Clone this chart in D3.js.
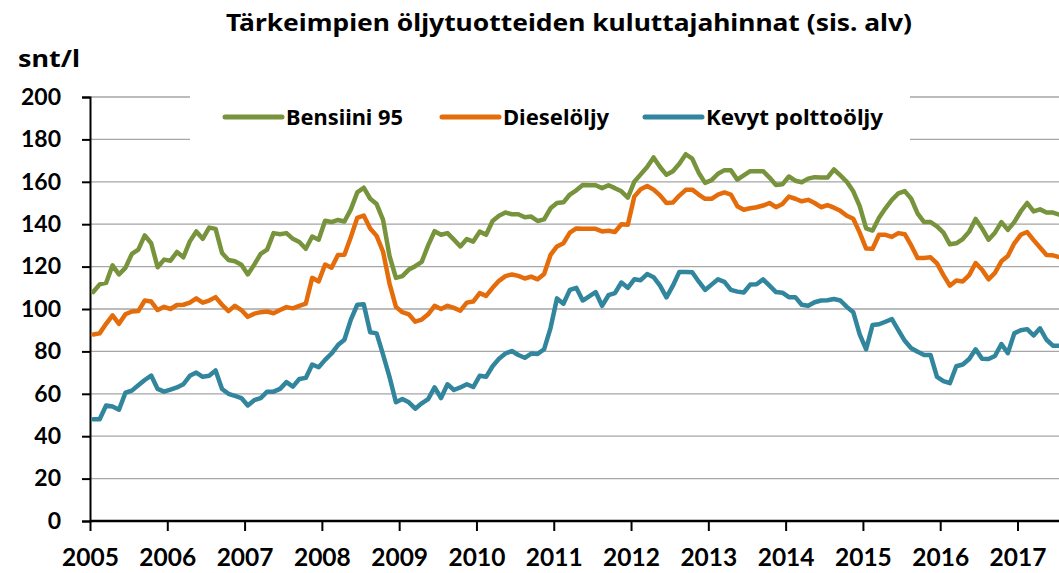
<!DOCTYPE html>
<html>
<head>
<meta charset="utf-8">
<script src="https://cdn.jsdelivr.net/npm/d3@7"></script>
<style>
  body { margin: 0; background: #fff; }
  svg { display: block; }
  text { font-weight: 700; fill: #000; }
  .tickfont { font-family: Lato, "Noto Sans", sans-serif; }
  .labelfont { font-family: "Noto Sans", Lato, sans-serif; }
</style>
</head>
<body>
<svg id="chart" width="1059" height="573"></svg>
<script>
// Monthly consumer prices (snt/l, incl. VAT), Jan 2005 – Jul 2017
const firstYear = 2005;
const yearTicks = [2005, 2006, 2007, 2008, 2009, 2010, 2011, 2012, 2013, 2014, 2015, 2016, 2017];
const valueTicks = [0, 20, 40, 60, 80, 100, 120, 140, 160, 180, 200];
const seriesNames = ["Bensiini 95", "Dieselöljy", "Kevyt polttoöljy"];
const seriesColors = ["#77933C", "#E46C0A", "#31859C"];

const bensiini95 = [
  108, 111.6, 112.3, 120.6, 116.3, 119.4, 126, 128, 134.7, 131, 119.7, 123.3,
  122.8, 126.9, 124.4, 131.9, 136.6, 133.1, 138.4, 137.8, 126.4, 123.1, 122.5, 120.9,
  116.3, 120.9, 126, 128, 135.8, 135.3, 135.8, 133.1, 131.6, 128.4, 134.2, 132.7,
  141.6, 141, 142, 141.3, 147, 155, 157.2, 152, 149.5, 142, 125, 114.7,
  115.5, 118.6, 120.2, 122.2, 130, 136.7, 135, 135.8, 132.7, 129.5, 133, 131.8,
  136.5, 135, 141.5, 144, 145.5, 144.7, 144.7, 143.3, 143.6, 141.5, 142.3, 147.5,
  150, 150.3, 154, 156, 158.5, 158.4, 158.4, 157, 158.4, 157, 155.5, 152.5,
  160, 163.5, 167, 171.5, 167, 163.3, 165, 168.5, 173, 170.9, 164.3, 159.5,
  160.8, 163.8, 165.5, 165.5, 161, 163, 165, 165, 165, 162, 158.5, 158.8,
  162.5, 160.5, 159.8, 161.5, 162.2, 162, 162, 165.8, 163, 160, 155.5, 148.5,
  138, 137, 143, 147.5, 151.5, 154.5, 155.6, 152, 145, 141, 141, 139,
  136, 130.5, 131, 133, 136.5, 142.5, 138, 132.7, 136, 141, 137.3, 141,
  146, 150, 146, 147, 145.5, 145.5, 144.5
];
const dieselOljy = [
  88, 88.5, 93, 97, 93, 97.5, 98.8, 99, 104, 103.5, 99.5, 101,
  100, 101.9, 102, 103, 105, 103, 104, 105.6, 102, 99, 101.5, 99.5,
  96.3, 97.8, 98.5, 98.8, 98, 99.5, 100.9, 100.3, 101.5, 102.5, 114.7, 113,
  121, 119.5, 125.5, 125.6, 134, 143, 144.1, 138, 134.5, 127, 112, 101,
  98.5, 97.5, 94, 95, 97.5, 101.5, 100, 101.5, 100.5, 99.2, 103, 103.5,
  107.5, 106.2, 110, 113.3, 115.5, 116.3, 115.6, 114.4, 115.3, 114, 116.5, 125.5,
  129.5, 131, 136, 138, 137.8, 137.8, 137.8, 136.6, 136.9, 136.3, 140, 139.7,
  153, 156.5, 158, 156.3, 153.6, 150, 150.2, 153.5, 156.2, 156.3, 154, 152,
  152, 154, 155, 154, 148.5, 146.8, 147.5, 148, 148.8, 150, 148, 149.5,
  153, 152, 150.8, 151.5, 150, 148, 149, 147.8, 146.3, 144, 142.6, 136,
  128.5, 128.4, 135, 135, 134, 135.8, 135.3, 130, 124, 124.1, 124.4, 121.5,
  116, 111, 113.4, 113, 116, 121.7, 118.5, 114, 117, 122.5, 125, 131,
  135, 136.3, 132.5, 129, 125.5, 125.3, 124.5
];
const kevytPolttooljy = [
  48, 48, 54.5, 54, 52.5, 60.5, 61.5, 64, 66.5, 68.6, 62.3, 61,
  62, 63, 64.5, 68.5, 70, 68, 68.5, 71, 62.3, 60, 59, 58,
  54.5, 57, 58, 61, 61, 62.3, 65.5, 63.4, 67, 67.5, 73.8, 72.5,
  76, 79, 83, 85.5, 95, 102, 102.2, 89, 88.5, 78.5, 68, 56,
  57.5, 56, 53, 55.5, 57.5, 63, 58, 64.5, 61.8, 63, 64.5, 63.2,
  68.5, 68, 73, 76.5, 79, 80.2, 78.3, 77, 79, 78.8, 81, 91,
  105, 102.5, 109, 110, 104, 106, 108, 101.5, 106.5, 107.5, 112.5, 110,
  114, 113.6, 116.5, 115, 111, 105.5, 111, 117.5, 117.5, 117.3, 113, 109,
  111.5, 114, 112.8, 109, 108.2, 107.8, 111.5, 111.7, 114, 111, 108, 107.7,
  105.6, 105.6, 102, 101.5, 103.2, 104, 104.1, 104.7, 104, 101, 98.5, 88,
  81, 92.5, 92.8, 94, 95.2, 90, 85, 81.5, 79.8, 78.3, 78.3, 68,
  66, 65, 73, 73.8, 76.4, 81, 76.5, 76.4, 77.8, 83.5, 79.2, 88.5,
  90, 90.5, 87.5, 90.9, 85.5, 82.7, 82.7
];

const series = [bensiini95, dieselOljy, kevytPolttooljy];

const plot = { left: 90, right: 1059, top: 97, bottom: 521 };

const svg = d3.select("#chart");

const x = d3.scaleLinear().domain([2005, 2017]).range([plot.left, 1017.5]);
const y = d3.scaleLinear().domain([0, 200]).range([plot.bottom, plot.top]);

// monthly points sit in the middle of each month
const monthX = i => x(firstYear + (i + 0.5) / 12);

// horizontal gridlines
svg.append("g")
  .selectAll("line")
  .data(valueTicks.filter(v => v > 0))
  .join("line")
  .attr("x1", plot.left).attr("x2", plot.right)
  .attr("y1", d => y(d)).attr("y2", d => y(d))
  .attr("stroke", "#a6a6a6").attr("stroke-width", 1.3);

// legend panel hides the gridlines behind it
svg.append("rect")
  .attr("x", 190).attr("y", 96).attr("width", 720).attr("height", 46)
  .attr("fill", "#fff");

// y axis
const yAxis = d3.axisLeft(y).tickValues(valueTicks).tickSize(8).tickFormat(d3.format("d"));
const gy = svg.append("g").attr("transform", `translate(${plot.left},0)`).call(yAxis);
gy.select(".domain").attr("stroke", "#000").attr("stroke-width", 2);
gy.selectAll(".tick line").attr("stroke", "#000").attr("stroke-width", 2);
gy.selectAll(".tick text").attr("class", "tickfont").attr("x", -29)
  .style("font-size", "23px").attr("fill", "#000");

// x axis
const xAxis = d3.axisBottom(x).tickValues(yearTicks).tickSize(10).tickFormat(d3.format("d"));
const gx = svg.append("g").attr("transform", `translate(0,${plot.bottom})`).call(xAxis);
gx.select(".domain").attr("d", `M${plot.left},0H${plot.right}`).attr("stroke", "#000").attr("stroke-width", 2.6);
gx.selectAll(".tick line").attr("stroke", "#000").attr("stroke-width", 2);
gx.selectAll(".tick text").attr("class", "tickfont").attr("y", 45).attr("dy", null)
  .style("font-size", "24.5px").attr("fill", "#000");

// price lines
const line = d3.line()
  .x((d, i) => monthX(i))
  .y(d => y(d));

svg.append("defs").append("clipPath").attr("id", "plotClip")
  .append("rect").attr("x", plot.left).attr("y", 0).attr("width", plot.right - plot.left).attr("height", plot.bottom);

svg.append("g").attr("clip-path", "url(#plotClip)")
  .selectAll("path")
  .data(series)
  .join("path")
  .attr("d", d => line(d))
  .attr("fill", "none")
  .attr("stroke", (d, i) => seriesColors[i])
  .attr("stroke-width", 4.5)
  .attr("stroke-linejoin", "round")
  .attr("stroke-linecap", "round");

// legend
const legendX = [225, 442, 645];
const legendTextWidth = [117, 106, 177];
const legend = svg.append("g");
seriesNames.forEach((name, i) => {
  const g = legend.append("g").attr("transform", `translate(${legendX[i]},117)`);
  g.append("line").attr("x1", 0).attr("x2", 57).attr("y1", 0).attr("y2", 0)
    .attr("stroke", seriesColors[i]).attr("stroke-width", 5).attr("stroke-linecap", "round");
  g.append("text").attr("class", "labelfont").attr("x", 61).attr("y", 7.5)
    .attr("textLength", legendTextWidth[i]).attr("lengthAdjust", "spacingAndGlyphs")
    .style("font-size", "20.5px").text(name);
});

// title and unit
svg.append("text").attr("class", "labelfont").attr("x", 226).attr("y", 31)
  .attr("textLength", 686).attr("lengthAdjust", "spacingAndGlyphs")
  .style("font-size", "23.5px").text("Tärkeimpien öljytuotteiden kuluttajahinnat (sis. alv)");
svg.append("text").attr("class", "labelfont").attr("x", 18).attr("y", 67)
  .attr("textLength", 62).attr("lengthAdjust", "spacingAndGlyphs")
  .style("font-size", "23px").text("snt/l");
</script>
</body>
</html>
